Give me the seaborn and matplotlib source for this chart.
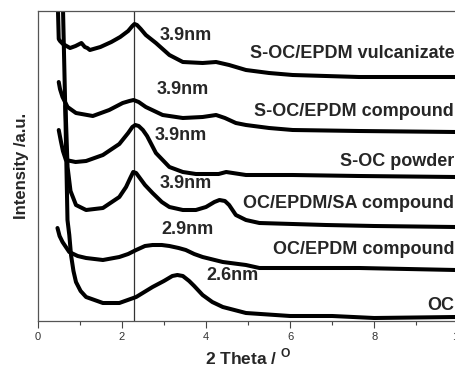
import numpy as np
import pandas as pd
import matplotlib
matplotlib.use("Agg")
import matplotlib.pyplot as plt
import seaborn as sns

# ---- data (2 Theta in degrees, intensity in arbitrary units) ----
samples = ["S-OC/EPDM vulcanizate", "S-OC/EPDM compound", "S-OC powder",
           "OC/EPDM/SA compound", "OC/EPDM compound", "OC"]

vulc_x = [0.47, 0.50, 0.53, 0.60, 0.77, 0.90, 1.04, 1.12, 1.18, 1.24, 1.49, 1.75, 1.96, 2.15, 2.25, 2.30,
          2.36, 2.45, 2.57, 2.81, 3.13, 3.45, 3.92, 4.24, 4.55, 4.95, 5.50, 6.06, 7.64, 9.94]
vulc_y = [330, 282, 280, 277, 273, 275, 278, 274, 273, 271, 274, 279, 284, 290, 295, 297,
          296, 292, 286, 278, 266, 259, 258, 259, 256, 251, 248, 246, 244, 244]

comp_x = [0.50, 0.53, 0.59, 0.71, 0.91, 1.31, 1.70, 2.02, 2.18, 2.28, 2.40, 2.57, 2.97, 3.45, 3.92, 4.24,
          4.45, 4.71, 4.95, 5.50, 6.06, 7.64, 9.94]
comp_y = [239, 232, 224, 214, 208, 205, 211, 218, 220, 221, 219, 214, 206, 203, 204, 206,
          203, 198, 196, 193, 191, 190, 189]

powd_x = [0.50, 0.55, 0.60, 0.67, 0.90, 1.15, 1.55, 1.94, 2.15, 2.25, 2.32, 2.40, 2.50, 2.60, 2.81, 3.13, 3.45,
          3.76, 4.30, 4.48, 4.95, 6.06, 7.64, 9.94]
powd_y = [191, 180, 170, 161, 159, 160, 166, 177, 188, 194, 196, 195, 191, 185, 168, 154, 149,
          147, 147, 149, 146, 146, 145, 144]

sa_x = [0.66, 0.71, 0.78, 0.91, 1.15, 1.55, 1.94, 2.10, 2.20, 2.27, 2.34, 2.41, 2.55, 2.73, 2.95, 3.13, 3.45, 3.76,
        4.00, 4.20, 4.32, 4.45, 4.55, 4.71, 4.95, 5.27, 6.85, 8.00, 9.94]
sa_y = [215, 154, 130, 116, 111, 113, 124, 134, 143, 149, 148, 144, 136, 128, 119, 114, 111, 111,
        114, 119, 121, 120, 116, 106, 101, 98, 96, 95, 94]

ocep_x = [0.47, 0.52, 0.59, 0.75, 0.95, 1.15, 1.55, 1.94, 2.15, 2.34, 2.55, 2.73, 2.95, 3.13, 3.35,
          3.52, 3.72, 3.92, 4.40, 4.95, 5.27, 6.00, 7.64, 9.94]
ocep_y = [93, 85, 79, 69, 65, 63, 61, 64, 67, 71, 75, 76, 76, 75, 73,
          71, 67, 64, 59, 56, 53, 53, 53, 51]

oc_x = [0.59, 0.602, 0.661, 0.708, 0.751, 0.792, 0.85, 0.91, 1.02, 1.15, 1.55, 1.94, 2.34, 2.73, 3.00, 3.20, 3.32, 3.45,
        3.60, 3.72, 3.92, 4.15, 4.40, 4.95, 6.00, 7.00, 8.00, 9.94]
oc_y = [330, 311, 201, 101, 86, 66, 50, 39, 30, 24, 18, 18, 24, 34, 40, 45, 46, 45,
        40, 35, 26, 19, 14, 8, 5, 5, 3, 4]

peak_labels = ["3.9nm", "3.9nm", "3.9nm", "3.9nm", "2.9nm", "2.6nm"]
x_ticks = [0, 2, 4, 6, 8, 10]
x_minor = [1, 3, 5, 7, 9]
ref_line_x = 2.3

# ---- long-form table ----
xs = [vulc_x, comp_x, powd_x, sa_x, ocep_x, oc_x]
ys = [vulc_y, comp_y, powd_y, sa_y, ocep_y, oc_y]
frames = []
for name, x, y in zip(samples, xs, ys):
    frames.append(pd.DataFrame({"two_theta": x, "intensity": y, "sample": name}))
df = pd.concat(frames, ignore_index=True)

sns.set_theme(style="ticks")
plt.rcParams["font.family"] = ["Liberation Sans", "DejaVu Sans"]

fig = plt.figure(figsize=(4.56, 3.67), dpi=100)
ax = fig.add_axes([37.7 / 456, 46 / 367, (458.4 - 37.7) / 456, 310 / 367])

sns.lineplot(data=df, x="two_theta", y="intensity", hue="sample", units="sample",
             estimator=None, sort=False, palette=["black"] * len(samples),
             linewidth=2.9, legend=False, ax=ax)
for ln in ax.get_lines():
    ln.set_solid_joinstyle("round")
    ln.set_solid_capstyle("round")

ax.axvline(ref_line_x, color="#333333", lw=0.9, zorder=1)

ax.set_xlim(0, 10)
ax.set_ylim(0, 310)
ax.set_xticks(x_ticks)
ax.set_xticks(x_minor, minor=True)
ax.set_yticks([])
ax.tick_params(axis="x", which="major", length=5, width=0.8, color="#444444",
               labelsize=8, labelcolor="#333333", pad=3, direction="out")
ax.tick_params(axis="x", which="minor", length=3, width=0.8, color="#444444", direction="out")
for s in ax.spines.values():
    s.set_color("#555555")
    s.set_linewidth(0.9)

ax.set_xlabel("2 Theta / $^{\\mathregular{O}}$", fontsize=12.5, fontweight="bold", labelpad=3.5)
ax.set_ylabel("Intensity /a.u.", fontsize=12, fontweight="bold", labelpad=6.5)

# peak annotations (data coordinates)
peak_pos = [(3.53, 286), (3.45, 231), (3.41, 186), (3.53, 137), (3.55, 92), (4.64, 45)]
for txt, (px, py) in zip(peak_labels, peak_pos):
    ax.text(px, py, txt, fontsize=13, fontweight="bold", ha="center", va="center")

# sample names, right aligned
name_y = [267, 210, 160, 117, 71, 16]
for name, yy in zip(samples, name_y):
    ax.text(9.9, yy, name, fontsize=13, fontweight="bold", ha="right", va="center")

fig.savefig("out.png", dpi=100)
